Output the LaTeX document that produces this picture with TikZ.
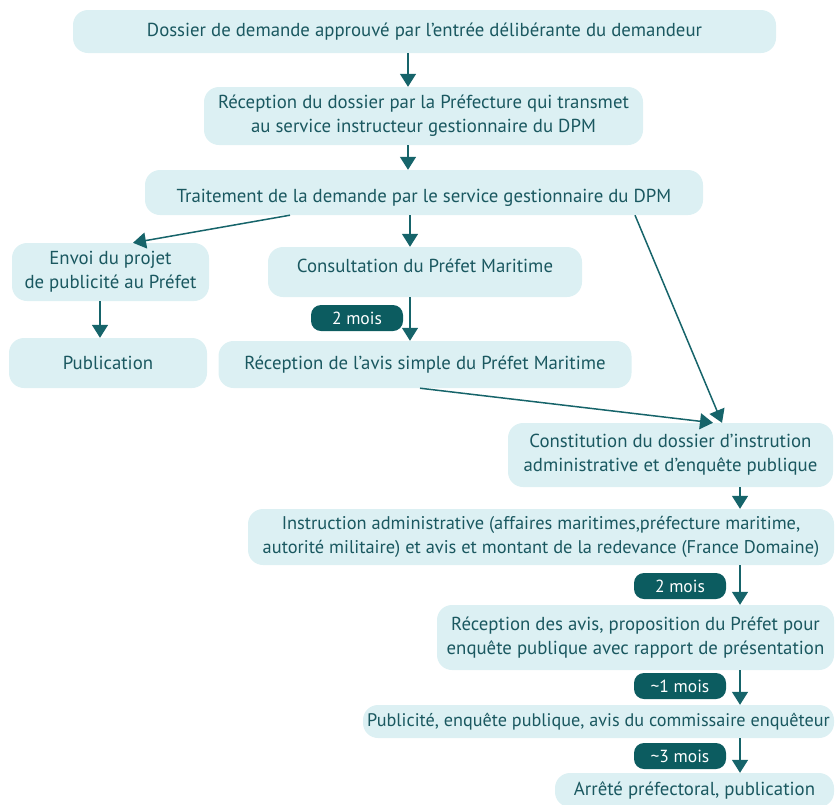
\documentclass[tikz,border=0pt]{standalone}
\usepackage{fontspec}
\setmainfont{PT Sans}
\usetikzlibrary{arrows.meta}
\definecolor{boxfill}{RGB}{220,240,243}
\definecolor{txt}{RGB}{26,88,96}
\definecolor{badge}{RGB}{12,92,96}
\definecolor{arrc}{RGB}{22,100,106}
\begin{document}
\begin{tikzpicture}[x=1pt,y=-1pt,
 box/.style={fill=boxfill, rounded corners=15pt, text=txt, align=center, inner sep=0pt, font=\fontsize{18.8}{24}\selectfont},
 badgebox/.style={fill=badge, rounded corners=10pt, text=white, inner sep=0pt, minimum width=92pt, minimum height=26pt, font=\fontsize{17.5}{20}\selectfont},
 arr/.style={draw=arrc, line width=1.5pt, -{Triangle[length=13pt,width=16pt]}}
]
\useasboundingbox (0,0) rectangle (835,804);
\node[box, minimum width=703pt, minimum height=43pt] (b1) at (424.5,31.5) {Dossier de demande approuvé par l’entrée délibérante du demandeur};
\node[box, minimum width=439pt, minimum height=58pt] (b2) at (423.5,116) {Réception du dossier par la Préfecture qui transmet\\au service instructeur gestionnaire du DPM};
\node[box, minimum width=558pt, minimum height=45pt, text height=23pt, text depth=4pt] (b3) at (424,192.5) {Traitement de la demande par le service gestionnaire du DPM};
\node[box, minimum width=197pt, minimum height=58pt] (b4) at (110.5,272) {Envoi du projet\\de publicité au Préfet};
\node[box, minimum width=198pt, minimum height=50pt] (b5) at (108,363) {Publication};
\node[box, minimum width=314pt, minimum height=50pt, text height=13pt, text depth=13pt] (b6) at (425,272) {Consultation du Préfet Maritime};
\node[box, minimum width=413pt, minimum height=47pt] (b7) at (425,364.5) {Réception de l’avis simple du Préfet Maritime};
\node[box, minimum width=325pt, minimum height=64pt] (b8) at (670.5,455) {Constitution du dossier d’instrution\\administrative et d’enquête publique};
\node[box, minimum width=586pt, minimum height=56pt, font=\fontsize{18.4}{24}\selectfont] (b9) at (541,537) {Instruction administrative (affaires maritimes,préfecture maritime,\\autorité militaire) et avis et montant de la redevance (France Domaine)};
\node[box, minimum width=397pt, minimum height=65pt] (b10) at (635.5,637.5) {Réception des avis, proposition du Préfet pour\\enquête publique avec rapport de présentation};
\node[box, minimum width=471pt, minimum height=33pt, font=\fontsize{18.2}{24}\selectfont] (b11) at (598.5,721.5) {Publicité, enquête publique, avis du commissaire enquêteur};
\node[box, minimum width=279pt, minimum height=34pt] (b12) at (694.5,790) {Arrêté préfectoral, publication};
\node[badgebox] (g1) at (357,318) {2 mois};
\node[badgebox] (g2) at (680,586) {2 mois};
\node[badgebox] (g3) at (680,686) {\textasciitilde1 mois};
\node[badgebox] (g4) at (680,756) {\textasciitilde3 mois};
\coordinate (xa) at (408,0);
\coordinate (xb) at (410,0);
\coordinate (xl) at (100,0);
\coordinate (xr) at (740,0);
\coordinate (xs1) at (290,0);
\coordinate (xe1) at (133,0);
\coordinate (xs2) at (420,0);
\coordinate (xe2) at (713,0);
\coordinate (xs3) at (635,0);
\coordinate (xe3) at (722,0);
\draw[arr] (b1.south -| xa) -- (b2.north -| xa);
\draw[arr] (b2.south -| xa) -- (b3.north -| xa);
\draw[arr] (b3.south -| xs1) -- (b4.north -| xe1);
\draw[arr] (b3.south -| xb) -- (b6.north -| xb);
\draw[arr] (b4.south -| xl) -- (b5.north -| xl);
\draw[arr] (b6.south -| xb) -- (b7.north -| xb);
\draw[arr] (b7.south -| xs2) -- (b8.north -| xe2);
\draw[arr] (b3.south -| xs3) -- (b8.north -| xe3);
\draw[arr] (b8.south -| xr) -- (b9.north -| xr);
\draw[arr] (b9.south -| xr) -- (b10.north -| xr);
\draw[arr] (b10.south -| xr) -- (b11.north -| xr);
\draw[arr] (b11.south -| xr) -- (b12.north -| xr);
\end{tikzpicture}
\end{document}
